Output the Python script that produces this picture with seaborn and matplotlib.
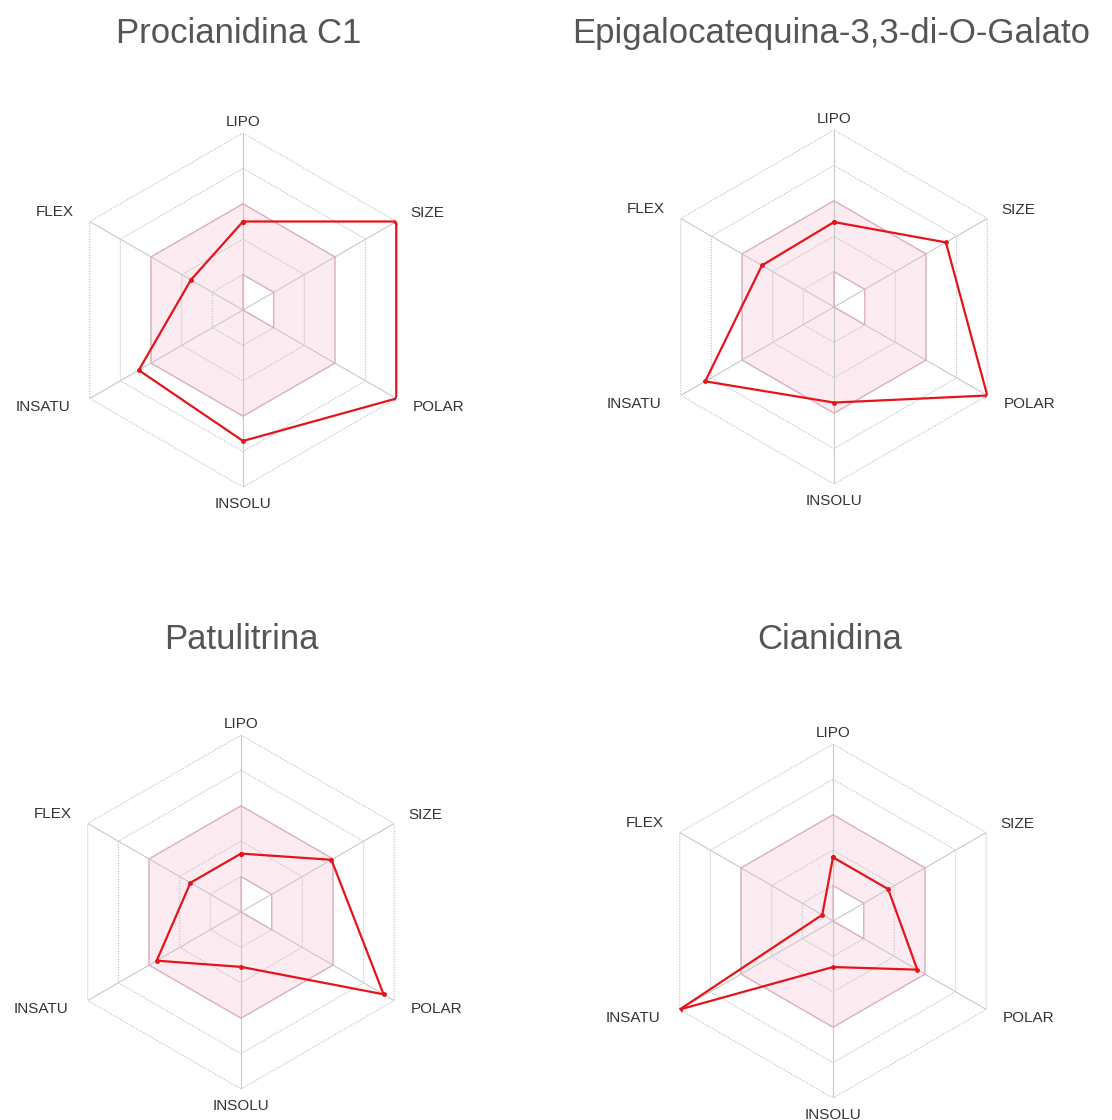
import numpy as np
import seaborn as sns
import matplotlib
matplotlib.use("Agg")
import matplotlib.pyplot as plt

# Eixos do radar de biodisponibilidade (SwissADME)
eixos = ["LIPO", "SIZE", "POLAR", "INSOLU", "INSATU", "FLEX"]

# Faixa ótima (área rosa): limite interno e externo em cada eixo
faixa_interna = [1, 1, 1, 0, 0, 0]
faixa_externa = [3, 3, 3, 3, 3, 3]

# Valores (escala 0-5)
procianidina_c1 = [2.5, 5.0, 5.0, 3.7, 3.4, 1.7]
epigalocatequina = [2.4, 3.65, 5.0, 2.7, 4.2, 2.35]
patulitrina = [1.65, 2.95, 4.65, 1.55, 2.75, 1.65]
cianidina = [1.8, 1.8, 2.75, 1.3, 5.0, 0.35]

titulos = ["Procianidina C1", "Epigalocatequina-3,3-di-O-Galato",
           "Patulitrina", "Cianidina"]
series = [procianidina_c1, epigalocatequina, patulitrina, cianidina]

W, H = 1112, 1120
R = 177
centros = [(243, 310), (834, 307), (241, 912), (833, 921)]
titulos_pos = [(239, 43), (831, 43), (241, 649), (830, 649)]

# deslocamento dos rótulos (pontos), alinhamento
rotulos_cfg = {
    "LIPO": ((0, 3), "center", "bottom"),
    "SIZE": ((10, 6), "left", "center"),
    "POLAR": ((12, -6), "left", "center"),
    "INSOLU": ((0, -7), "center", "top"),
    "INSATU": ((-14, -6), "right", "center"),
    "FLEX": ((-11.5, 7), "right", "center"),
}

sns.set_theme(style="white")
plt.rcParams["font.family"] = ["Liberation Sans", "DejaVu Sans"]

angulos = np.linspace(0, 2 * np.pi, len(eixos), endpoint=False)
ang_fech = np.append(angulos, 2 * np.pi)


def fechar(v):
    return list(v) + [v[0]]


def desenhar_radar(ax, valores):
    ax.set_theta_offset(np.pi / 2)
    ax.set_theta_direction(-1)
    ax.axis("off")

    # área rosa: anel externo e limite interno em ordem inversa
    th = list(ang_fech) + list(ang_fech[::-1])
    rr = fechar(faixa_externa) + fechar(faixa_interna)[::-1]
    ax.fill(th, rr, color="#fcebf1", lw=0, zorder=1)
    ax.plot(ang_fech, fechar(faixa_externa), color="#dcb3c1", lw=1.0, zorder=2)
    ax.plot(ang_fech, fechar(faixa_interna), color="#dcb3c1", lw=1.0, zorder=2)

    # grade hexagonal
    for r in range(1, 6):
        ax.plot(ang_fech, [r] * len(ang_fech), color="#c4c4c4", lw=0.8,
                ls=(0, (1.2, 1.2)), zorder=1.5)
    for a in angulos:
        ax.plot([a, a], [0, 5], color="#c8c8c8", lw=0.8, zorder=1.5)

    sns.lineplot(x=ang_fech, y=fechar(valores), sort=False, estimator=None,
                 ax=ax, color="#e5141b", lw=1.6, marker="o", markersize=3.5,
                 markeredgewidth=0, zorder=5)
    ax.set_xlabel("")
    ax.set_ylabel("")
    ax.set_ylim(0, 5)

    for a, nome in zip(angulos, eixos):
        off, ha, va = rotulos_cfg[nome]
        ax.annotate(nome, xy=(a, 5), xytext=off, textcoords="offset points",
                    ha=ha, va=va, fontsize=11, color="#333333",
                    annotation_clip=False)


fig = plt.figure(figsize=(W / 100, H / 100), dpi=100)
for (cx, cy), (tx, ty), titulo, valores in zip(centros, titulos_pos, titulos, series):
    ax = fig.add_axes([(cx - R) / W, 1 - (cy + R) / H, 2 * R / W, 2 * R / H],
                      projection="polar")
    desenhar_radar(ax, valores)
    fig.text(tx / W, 1 - ty / H, titulo, ha="center", va="baseline",
             fontsize=25, color="#555555")

fig.savefig("out.png", dpi=100, facecolor="white")
